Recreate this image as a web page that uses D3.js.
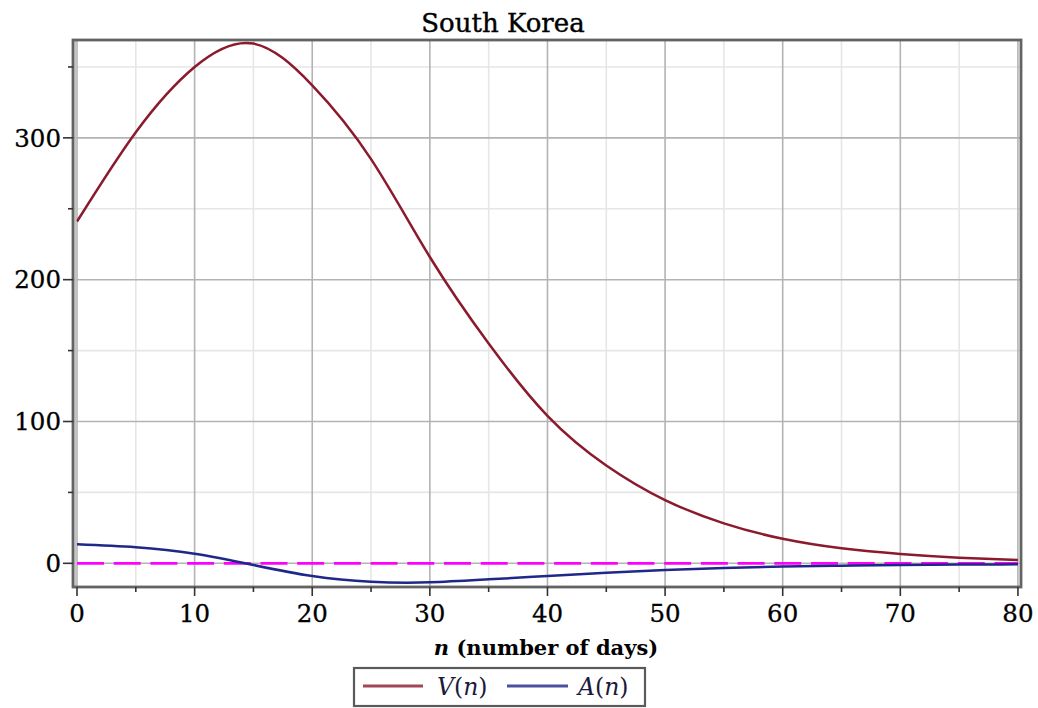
<!DOCTYPE html>
<html>
<head>
<meta charset="utf-8">
<script src="https://cdn.jsdelivr.net/npm/d3@7"></script>
<style>
  html, body { margin: 0; padding: 0; background: #fff; }
  svg { display: block; }
</style>
</head>
<body>
<svg id="chart" width="1038" height="708"></svg>
<script>
// ---- data ----
const days    = [0, 5, 10, 15, 20, 25, 30, 35, 40, 45, 50, 55, 60, 65, 70, 75, 80];
const vValues = [241, 304, 350, 366.5, 337, 285, 216, 155, 104, 69, 44.6, 28.2, 17.3, 10.6, 6.6, 4, 2.3];
const aValues = [13.4, 11.3, 6.7, -1.2, -9, -13, -13.4, -11.3, -9, -6.7, -4.7, -3.3, -2.3, -1.7, -1.2, -0.9, -0.7];
const xTicks = [0, 10, 20, 30, 40, 50, 60, 70, 80];
const xMinorTicks = [5, 15, 25, 35, 45, 55, 65, 75];
const yTicks = [0, 100, 200, 300];
const yMinorTicks = [50, 150, 250, 350];
const seriesNames = ["V", "A"];
const titleText = "South Korea";

// ---- layout ----
const svg = d3.select("#chart");
const L = 73, R = 1021, T = 40, B = 587;
const x = d3.scaleLinear().domain([-0.34, 80.26]).range([L, R]);
const y = d3.scaleLinear().domain([-16.7, 369]).range([B, T]);
const FONT = "'DejaVu Serif', serif";
const colV = "#8a1a2c", colA = "#1e2888";

// grid
const g = svg.append("g");
g.selectAll(".vminor").data(xMinorTicks).join("line")
  .attr("x1", d => x(d)).attr("x2", d => x(d)).attr("y1", T).attr("y2", B)
  .attr("stroke", "#e6e6e6").attr("stroke-width", 1.6);
g.selectAll(".hminor").data(yMinorTicks).join("line")
  .attr("x1", L).attr("x2", R).attr("y1", d => y(d)).attr("y2", d => y(d))
  .attr("stroke", "#e6e6e6").attr("stroke-width", 1.6);
g.selectAll(".vmajor").data(xTicks).join("line")
  .attr("x1", d => x(d)).attr("x2", d => x(d)).attr("y1", T).attr("y2", B)
  .attr("stroke", "#b3b3b3").attr("stroke-width", 1.6);
g.selectAll(".hmajor").data(yTicks).join("line")
  .attr("x1", L).attr("x2", R).attr("y1", d => y(d)).attr("y2", d => y(d))
  .attr("stroke", "#b3b3b3").attr("stroke-width", 1.6);

// zero dashed line
svg.append("line")
  .attr("x1", x(0)).attr("x2", x(80)).attr("y1", y(0)).attr("y2", y(0))
  .attr("stroke", "#ff00ff").attr("stroke-width", 2.8)
  .attr("stroke-dasharray", "27,9.7");

// curves
const line = (vals) => d3.line()
  .x((d, i) => x(days[i]))
  .y(d => y(d))
  .curve(d3.curveNatural)(vals);
svg.append("path").attr("d", line(aValues))
  .attr("fill", "none").attr("stroke", colA).attr("stroke-width", 2.5);
svg.append("path").attr("d", line(vValues))
  .attr("fill", "none").attr("stroke", colV).attr("stroke-width", 2.5);

// frame
svg.append("line").attr("x1", L + 2.5).attr("x2", L + 2.5).attr("y1", T).attr("y2", B)
  .attr("stroke", "#c4c4c4").attr("stroke-width", 2);
svg.append("rect").attr("x", L).attr("y", T).attr("width", R - L).attr("height", B - T)
  .attr("fill", "none").attr("stroke", "#636363").attr("stroke-width", 2.8);

// ticks
svg.selectAll(".xt").data(xTicks).join("line")
  .attr("x1", d => x(d)).attr("x2", d => x(d)).attr("y1", B).attr("y2", B + 9)
  .attr("stroke", "#333").attr("stroke-width", 1.6);
svg.selectAll(".xmt").data(xMinorTicks).join("line")
  .attr("x1", d => x(d)).attr("x2", d => x(d)).attr("y1", B).attr("y2", B + 5)
  .attr("stroke", "#333").attr("stroke-width", 1.6);
svg.selectAll(".yt").data(yTicks).join("line")
  .attr("x1", L - 10).attr("x2", L).attr("y1", d => y(d)).attr("y2", d => y(d))
  .attr("stroke", "#333").attr("stroke-width", 1.6);
svg.selectAll(".ymt").data(yMinorTicks).join("line")
  .attr("x1", L - 5).attr("x2", L).attr("y1", d => y(d)).attr("y2", d => y(d))
  .attr("stroke", "#333").attr("stroke-width", 1.6);

// tick labels
svg.selectAll(".xl").data(xTicks).join("text")
  .attr("x", d => x(d)).attr("y", 622)
  .attr("text-anchor", "middle").attr("font-family", FONT).attr("font-size", 24.5)
  .attr("fill", "#000").attr("stroke", "#000").attr("stroke-width", 0.3).text(d => d);
svg.selectAll(".yl").data(yTicks).join("text")
  .attr("x", 61).attr("y", d => y(d)).attr("dy", "0.36em")
  .attr("text-anchor", "end").attr("font-family", FONT).attr("font-size", 24.5)
  .attr("fill", "#000").attr("stroke", "#000").attr("stroke-width", 0.3).text(d => d);

// title
svg.append("text").attr("x", 503).attr("y", 32).attr("text-anchor", "middle")
  .attr("font-family", FONT).attr("font-size", 26).attr("fill", "#000")
  .attr("stroke", "#000").attr("stroke-width", 0.4).text(titleText);

// axis label
const xl = svg.append("text").attr("x", 546).attr("y", 655).attr("text-anchor", "middle")
  .attr("font-family", FONT).attr("font-size", 21).attr("font-weight", "bold").attr("fill", "#000");
xl.append("tspan").attr("font-style", "italic").text("n");
xl.append("tspan").text(" (number of days)");

// legend
const lg = svg.append("g");
lg.append("rect").attr("x", 354).attr("y", 668).attr("width", 291).attr("height", 38)
  .attr("fill", "#fff").attr("stroke", "#5a5a5a").attr("stroke-width", 2.2);
const legendItems = [
  { name: seriesNames[0], color: colV, x1: 363, x2: 423, tx: 437 },
  { name: seriesNames[1], color: colA, x1: 507, x2: 568, tx: 578 }
];
legendItems.forEach(it => {
  lg.append("line").attr("x1", it.x1).attr("x2", it.x2).attr("y1", 686).attr("y2", 686)
    .attr("stroke", it.color).attr("stroke-width", 2.8).attr("opacity", 0.8);
  const t = lg.append("text").attr("x", it.tx).attr("y", 694.5)
    .attr("font-family", FONT).attr("font-size", 23.5).attr("fill", "#1a1a3a");
  t.append("tspan").attr("font-style", "italic").text(it.name);
  t.append("tspan").text("(");
  t.append("tspan").attr("font-style", "italic").text("n");
  t.append("tspan").text(")");
});
</script>
</body>
</html>
